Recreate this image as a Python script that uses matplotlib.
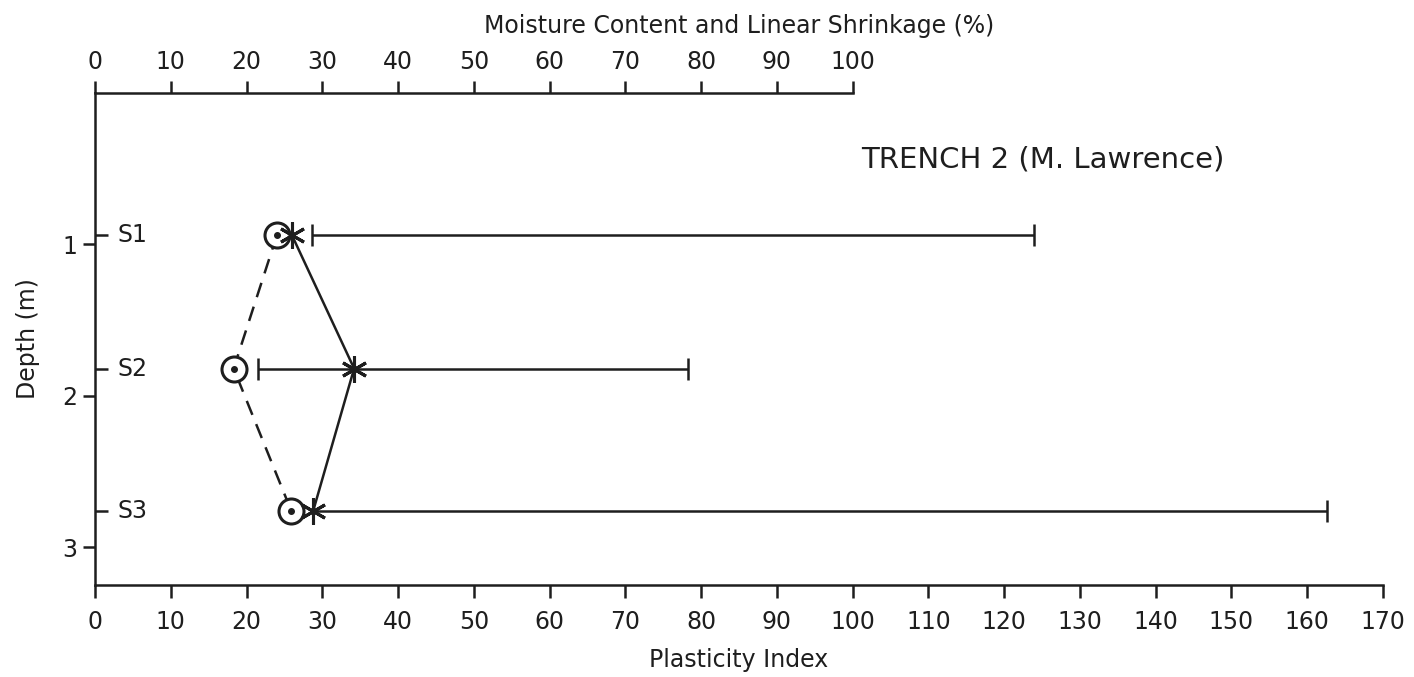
import matplotlib
matplotlib.use('Agg')
import matplotlib.pyplot as plt

# 数据：三个样品的深度和测量值
samples = ['S1', 'S2', 'S3']
depth = [0.94, 1.82, 2.76]
moisture = [24.0, 18.3, 25.9]        # 圆圈, 虚线 (上轴)
shrinkage = [26.0, 34.2, 28.8]       # 星号, 实线
pi_low = [28.7, 21.5, 28.8]          # 塑性指数范围 (下轴)
pi_high = [124.0, 78.3, 162.6]

plt.rcParams['font.family'] = ['DejaVu Sans']

fig = plt.figure(figsize=(14.14, 6.77), dpi=100)
ax = fig.add_axes([0.0672, 0.1359, 0.9108, 0.7267])

lw = 1.8
ink = '#1e1e1e'
# 塑性指数横线和两端竖线
ax.hlines(depth, pi_low, pi_high, colors=ink, lw=lw, zorder=2)
ax.plot(pi_low, depth, ls='none', marker='|', ms=16, mew=lw, color=ink, zorder=2)
ax.plot(pi_high, depth, ls='none', marker='|', ms=16, mew=lw, color=ink, zorder=2)

# 含水量: 圆圈 + 虚线
ax.plot(moisture, depth, color=ink, lw=lw, ls=(0, (6, 4)), zorder=3)
ax.plot(moisture, depth, ls='none', marker='o', ms=18, mfc='white', mec=ink, mew=2.2, zorder=4)
ax.plot(moisture, depth, ls='none', marker='o', ms=4, color=ink, zorder=5)

# 星号 + 实线
ax.plot(shrinkage, depth, color=ink, lw=lw, zorder=3)
ax.plot(shrinkage, depth, ls='none', marker=(6, 2, 0), ms=19, mew=2.2, color=ink, zorder=5)

ax.set_xlim(0, 170)
ax.set_ylim(3.25, 0)

ax.spines['top'].set_visible(False)
ax.spines['right'].set_visible(False)
for s in ['left', 'bottom']:
    ax.spines[s].set_linewidth(lw)
    ax.spines[s].set_color(ink)

ax.set_xticks(range(0, 171, 10))
ax.set_yticks([1, 2, 3])
ax.tick_params(axis='both', which='major', direction='out', length=9, width=lw,
               labelsize=17, colors=ink)
ax.tick_params(axis='x', pad=9)
ax.set_yticks(depth, minor=True)
ax.tick_params(axis='y', which='minor', direction='in', length=9, width=lw, color=ink)
ax.yaxis.set_minor_formatter(plt.NullFormatter())

for name, d in zip(samples, depth):
    ax.annotate(name, xy=(0, d), xycoords=('axes fraction', 'data'), xytext=(16, 0),
                textcoords='offset points', ha='left', va='center', fontsize=17, color=ink)

# 上轴: 含水量和线收缩率
top = ax.secondary_xaxis('top')
top.set_xticks(range(0, 101, 10))
top.spines['top'].set_bounds(0, 100)
top.spines['top'].set_linewidth(lw)
top.spines['top'].set_color(ink)
top.tick_params(direction='out', length=9, width=lw, labelsize=17, colors=ink, pad=5)
top.set_xlabel('Moisture Content and Linear Shrinkage (%)', fontsize=17, color=ink, labelpad=12)

ax.set_xlabel('Plasticity Index', fontsize=17, color=ink, labelpad=10)
ax.set_ylabel('Depth (m)', fontsize=17, color=ink, labelpad=16)

ax.text(0.595, 0.865, 'TRENCH 2 (M. Lawrence)', transform=ax.transAxes, fontsize=21,
        ha='left', va='center', color=ink)

fig.savefig('out.png', dpi=100)
